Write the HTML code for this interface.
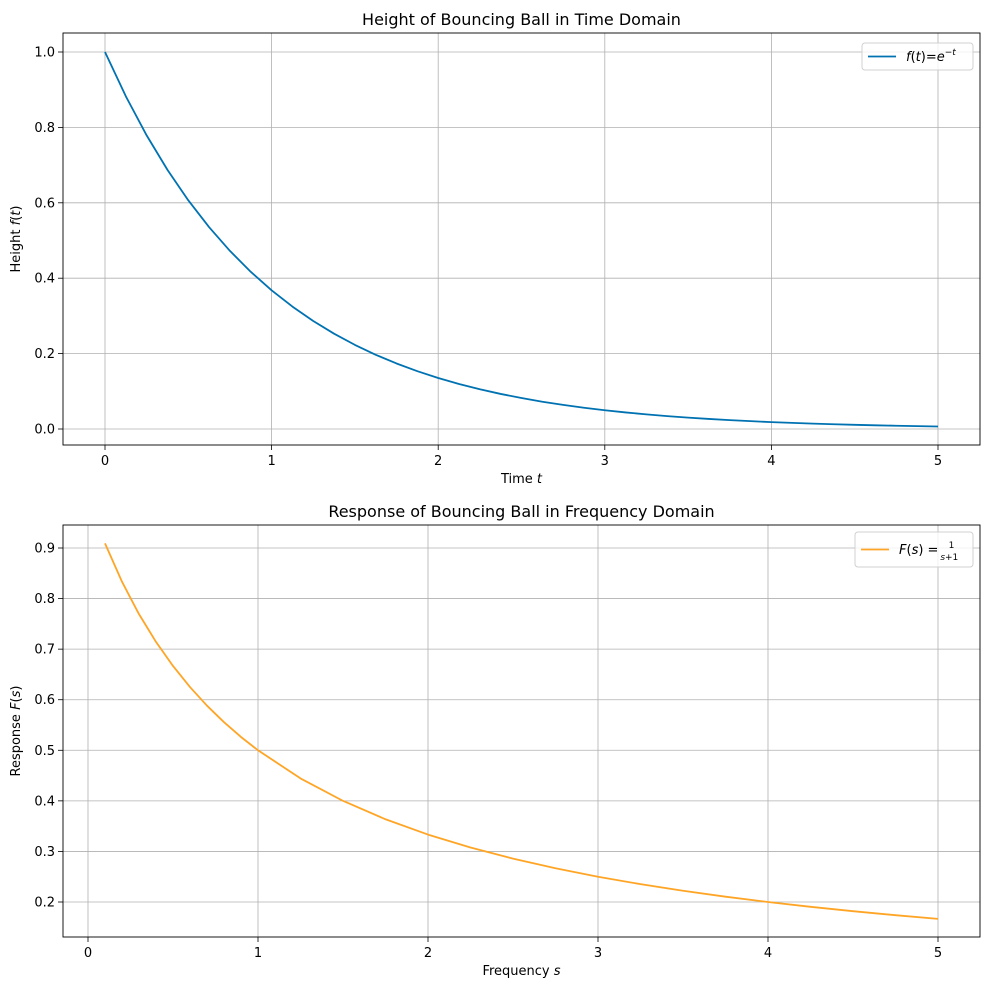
<!DOCTYPE html>
<html><head><meta charset="utf-8"><style>
body{margin:0;background:#fff}
svg{font-family:"DejaVu Sans","Liberation Sans",sans-serif}
</style></head><body>
<svg id="c" width="992" height="991" xmlns="http://www.w3.org/2000/svg"></svg>
<script>
const tVals=[0,0.125,0.25,0.375,0.5,0.625,0.75,0.875,1,1.125,1.25,1.375,1.5,1.625,1.75,1.875,2,2.125,2.25,2.375,2.5,2.625,2.75,2.875,3,3.125,3.25,3.375,3.5,3.625,3.75,3.875,4,4.125,4.25,4.375,4.5,4.625,4.75,4.875,5];
const heightVals=[1,.8825,.7788,.6873,.6065,.5353,.4724,.4169,.3679,.3247,.2865,.2528,.2231,.1969,.1738,.1534,.1353,.1194,.1054,.0930,.0821,.0724,.0639,.0564,.0498,.0439,.0388,.0342,.0302,.0267,.0235,.0208,.0183,.0162,.0143,.0126,.0111,.0098,.0087,.0076,.0067];
const sVals=[0.1,0.2,0.3,0.4,0.5,0.6,0.7,0.8,0.9,1.0,1.25,1.5,1.75,2,2.25,2.5,2.75,3,3.25,3.5,3.75,4,4.25,4.5,4.75,5];
const respVals=[.9091,.8333,.7692,.7143,.6667,.625,.5882,.5556,.5263,.5,.4444,.4,.3636,.3333,.3077,.2857,.2667,.25,.2353,.2222,.2105,.2,.1905,.1818,.1739,.1667];
const xTicks1=[0,1,2,3,4,5];
const yTicks1=[0.0,0.2,0.4,0.6,0.8,1.0];
const xTicks2=[0,1,2,3,4,5];
const yTicks2=[0.2,0.3,0.4,0.5,0.6,0.7,0.8,0.9];

const svg=document.getElementById('c');
const NS='http://www.w3.org/2000/svg';
function el(tag,attrs,parent){const e=document.createElementNS(NS,tag);for(const k in attrs)e.setAttribute(k,attrs[k]);(parent||svg).appendChild(e);return e;}

function panel(cfg){
  const g=el('g',{});
  
  
  const X=v=>cfg.x0+(v-cfg.xa)*(cfg.x1-cfg.x0)/(cfg.xb-cfg.xa);
  const Y=v=>cfg.y0+(v-cfg.ya)*(cfg.y1-cfg.y0)/(cfg.yb-cfg.ya);
  cfg.xt.forEach(v=>{
    const l=el('line',{x1:X(v),x2:X(v),y1:cfg.top,y2:cfg.bot,stroke:'#b0b0b0','stroke-width':0.8},g);
    
    el('line',{x1:X(v),x2:X(v),y1:cfg.bot,y2:cfg.bot+5,stroke:'#000','stroke-width':0.8},g);
    const t=el('text',{x:X(v),y:cfg.bot+20,'font-size':13,'text-anchor':'middle'},g);t.textContent=String(v);
    
  });
  cfg.yt.forEach(v=>{
    const l=el('line',{x1:cfg.left,x2:cfg.right,y1:Y(v),y2:Y(v),stroke:'#b0b0b0','stroke-width':0.8},g);
    
    el('line',{x1:cfg.left-5,x2:cfg.left,y1:Y(v),y2:Y(v),stroke:'#000','stroke-width':0.8},g);
    const t=el('text',{x:cfg.left-8,y:Y(v)+4.5,'font-size':13,'text-anchor':'end'},g);t.textContent=v.toFixed(1);
    
  });
  const pts=cfg.xs.map((x,i)=>X(x).toFixed(2)+','+Y(cfg.ys[i]).toFixed(2)).join(' ');
  const pl=el('polyline',{points:pts,fill:'none',stroke:cfg.color,'stroke-width':1.8,'stroke-linejoin':'round'},g);
  
  const fr=el('rect',{x:cfg.left,y:cfg.top,width:cfg.right-cfg.left,height:cfg.bot-cfg.top,fill:'none',stroke:'#000','stroke-width':0.9},g);
  
  const ti=el('text',{x:(cfg.left+cfg.right)/2,y:cfg.top-8,'font-size':16,'text-anchor':'middle'},g);ti.innerHTML=cfg.title;
  
  const xl=el('text',{x:(cfg.left+cfg.right)/2,y:cfg.bot+38,'font-size':13,'text-anchor':'middle'},g);xl.innerHTML=cfg.xlabel;
  
  const yl=el('text',{x:0,y:0,'font-size':13,'text-anchor':'middle',transform:`translate(20,${(cfg.top+cfg.bot)/2}) rotate(-90)`},g);yl.innerHTML=cfg.ylabel;
  
  const lg=el('g',{},g);
  
  const L=cfg.leg;
  el('rect',{x:L.x,y:L.y,width:L.w,height:L.h,rx:3,fill:'#fff','fill-opacity':0.8,stroke:'#d0d0d0'},lg);
  el('line',{x1:L.x+6,x2:L.x+34,y1:L.y+L.h/2,y2:L.y+L.h/2,stroke:cfg.color,'stroke-width':1.8},lg);
  const lt=el('text',{x:L.x+44,y:L.y+L.h/2+4.5,'font-size':13},lg);lt.innerHTML=L.text;
  
}
panel({name:'time-domain-chart',left:63,right:980,top:33,bot:445,x0:105,x1:938,xa:0,xb:5,y0:429,y1:52,ya:0,yb:1,
  xt:xTicks1,yt:yTicks1,xs:tVals,ys:heightVals,color:'#0072b2',
  title:'Height of Bouncing Ball in Time Domain',xlabel:'Time <tspan font-style="italic">t</tspan>',
  ylabel:'Height <tspan font-style="italic">f</tspan>(<tspan font-style="italic">t</tspan>)',
  leg:{x:862,y:43,w:111,h:27,text:'<tspan font-style="italic">f</tspan>(<tspan font-style="italic">t</tspan>)=<tspan font-style="italic">e</tspan><tspan font-size="9" dy="-6">−<tspan font-style="italic">t</tspan></tspan>'}});
panel({name:'frequency-domain-chart',left:63,right:980,top:525,bot:937,x0:88,x1:938,xa:0,xb:5,y0:902,y1:548,ya:0.2,yb:0.9,
  xt:xTicks2,yt:yTicks2,xs:sVals,ys:respVals,color:'#ffa526',
  title:'Response of Bouncing Ball in Frequency Domain',xlabel:'Frequency <tspan font-style="italic">s</tspan>',
  ylabel:'Response <tspan font-style="italic">F</tspan>(<tspan font-style="italic">s</tspan>)',
  leg:{x:855,y:532,w:118,h:35,text:'<tspan font-style="italic">F</tspan>(<tspan font-style="italic">s</tspan>) = <tspan font-size="9" dx="6" dy="-6">1</tspan><tspan font-size="9" dx="-14" dy="12" font-style="italic">s</tspan><tspan font-size="9">+1</tspan>'}});
</script>
</body></html>
